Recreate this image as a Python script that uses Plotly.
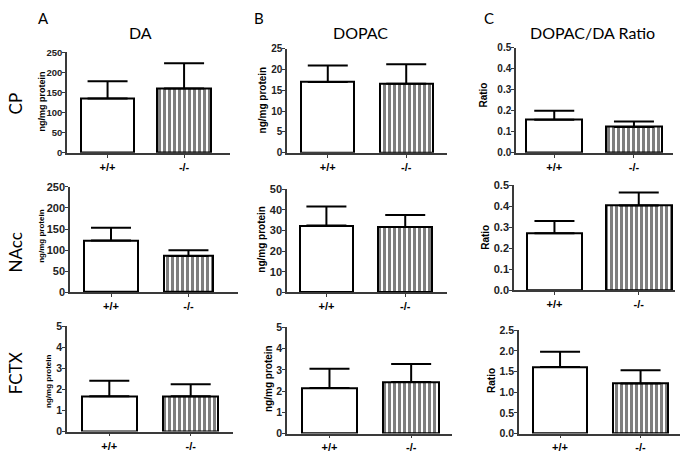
import plotly.graph_objects as go

W, H = 685, 459

genotypes = ["+/+", "-/-"]

# values [+/+, -/-] and upper SEM
da_cp = [135, 160]
da_cp_err = [43, 63]
dopac_cp = [17.0, 16.6]
dopac_cp_err = [4.0, 4.7]
ratio_cp = [0.157, 0.123]
ratio_cp_err = [0.043, 0.025]

da_nacc = [123, 86]
da_nacc_err = [30, 14]
dopac_nacc = [32.3, 31.6]
dopac_nacc_err = [9.3, 5.8]
ratio_nacc = [0.272, 0.403]
ratio_nacc_err = [0.058, 0.062]

da_fctx = [1.68, 1.68]
da_fctx_err = [0.74, 0.57]
dopac_fctx = [2.15, 2.43]
dopac_fctx_err = [0.90, 0.84]
ratio_fctx = [1.61, 1.21]
ratio_fctx_err = [0.37, 0.32]

col_letters = ["A", "B", "C"]
col_titles = ["DA", "DOPAC", "DOPAC/DA Ratio"]
row_titles = ["CP", "NAcc", "FCTX"]
y_titles = ["ng/mg protein", "ng/mg protein", "Ratio"]

panels = [
    (da_cp, da_cp_err, 250, 50, None),
    (dopac_cp, dopac_cp_err, 25, 5, None),
    (ratio_cp, ratio_cp_err, 0.5, 0.1, ".1f"),
    (da_nacc, da_nacc_err, 250, 50, None),
    (dopac_nacc, dopac_nacc_err, 50, 10, None),
    (ratio_nacc, ratio_nacc_err, 0.5, 0.1, ".1f"),
    (da_fctx, da_fctx_err, 5, 1, None),
    (dopac_fctx, dopac_fctx_err, 5, 1, None),
    (ratio_fctx, ratio_fctx_err, 2.5, 0.5, ".1f"),
]

# geometry (pixels): x0, x1, ytop, ybottom, xrange, bar widths, tick font size, ytitle x, ytitle y, ytitle size
geom = [
    (67, 230, 47.7, 150.7, [-0.53, 1.60], [0.70, 0.70], 9.5, 42, 98, 9),
    (287, 447, 44, 150.7, [-0.52, 1.52], [0.68, 0.68], 10, 262, 97, 10),
    (516, 673, 42.7, 150.7, [-0.48, 1.49], [0.70, 0.70], 10, 484, 92, 10),
    (70, 238, 185.7, 294, [-0.53, 1.64], [0.70, 0.63], 11, 42, 237, 8),
    (287, 447, 188, 294, [-0.50, 1.53], [0.68, 0.68], 11, 262, 240, 10),
    (514, 675, 184, 292, [-0.48, 1.43], [0.645, 0.78], 11, 486, 237, 10),
    (67, 233, 329, 437, [-0.52, 1.52], [0.68, 0.68], 10.5, 49, 385, 8),
    (287, 452, 330, 439, [-0.52, 1.50], [0.68, 0.68], 10.5, 269, 383, 10),
    (519, 680, 333, 439, [-0.51, 1.49], [0.68, 0.68], 10.5, 492, 385, 10),
]

fig = go.Figure()
axis_color = "#3a3a3a"
tick_family = "Liberation Sans"
label_family = "Lato"


def note(px, py, text, size, family, angle=0, weight="normal"):
    fig.add_annotation(x=px / W, y=1 - py / H, xref="paper", yref="paper",
                       xanchor="center", yanchor="middle", text=text,
                       textangle=angle, showarrow=False,
                       font=dict(family=family, size=size, color="black", weight=weight))


for i, ((vals, errs, ymax, dt, fmt), g) in enumerate(zip(panels, geom)):
    x0, x1, yt, yb, xr, bw, tfs, tx, ty, tsz = g
    n = "" if i == 0 else str(i + 1)
    xa, ya = "x" + n, "y" + n
    for j in range(2):
        hatched = j == 1
        fig.add_trace(go.Bar(
            x=[j], y=[vals[j]], width=[bw[j]],
            xaxis=xa, yaxis=ya, showlegend=False,
            marker=dict(
                color="white",
                line=dict(color="black", width=2),
                pattern=dict(shape="|" if hatched else "", fgcolor="black",
                             bgcolor="white", size=5, solidity=0.6),
            ),
            error_y=dict(type="data", array=[errs[j]], arrayminus=[0],
                         symmetric=False, color="black", thickness=2, width=20),
        ))
    fig.layout["xaxis" + n] = dict(
        domain=[x0 / W, x1 / W], anchor=ya, range=xr,
        tickvals=[0, 1], ticktext=genotypes, ticks="outside", ticklen=3,
        tickcolor=axis_color, showline=True, linecolor=axis_color, linewidth=1.5,
        showgrid=False, zeroline=False, fixedrange=True,
        tickfont=dict(family=tick_family, size=11, color="black", weight="bold"),
    )
    fig.layout["yaxis" + n] = dict(
        domain=[1 - yb / H, 1 - yt / H], anchor=xa, range=[0, ymax],
        dtick=dt, tick0=0, tickformat=fmt, ticks="outside", ticklen=3,
        ticklabelstandoff=-2,
        tickcolor=axis_color, showline=True, linecolor=axis_color, linewidth=1.5,
        showgrid=False, zeroline=False, fixedrange=True,
        tickfont=dict(family=tick_family, size=tfs, color="#222", weight="bold"),
    )
    note(tx, ty, y_titles[i % 3], tsz, tick_family, angle=-90, weight="bold")

# column letters and titles
letter_pos = [(43, 12), (259, 12), (489, 12)]
title_pos = [(140, 27), (360, 27), (592, 27)]
for k in range(3):
    note(letter_pos[k][0], letter_pos[k][1], col_letters[k], 15, label_family)
    note(title_pos[k][0], title_pos[k][1], col_titles[k], 16, label_family)

row_pos = [(15, 100), (15, 253), (15, 377)]
for k in range(3):
    note(row_pos[k][0], row_pos[k][1], row_titles[k], 17, label_family, angle=-90)

fig.update_layout(
    width=W, height=H, margin=dict(l=0, r=0, t=0, b=0),
    paper_bgcolor="white", plot_bgcolor="white", bargap=0,
)

fig.write_html(
    "out.html", config={"displayModeBar": False},
    post_script=(
        "document.documentElement.style.margin='0';"
        "document.body.style.margin='0';document.body.style.padding='0';"
        "document.body.style.overflow='hidden';"
        "var d=document.getElementById('{plot_id}');"
        "d.style.position='absolute';d.style.left='0px';d.style.top='0px';"
    ),
)
